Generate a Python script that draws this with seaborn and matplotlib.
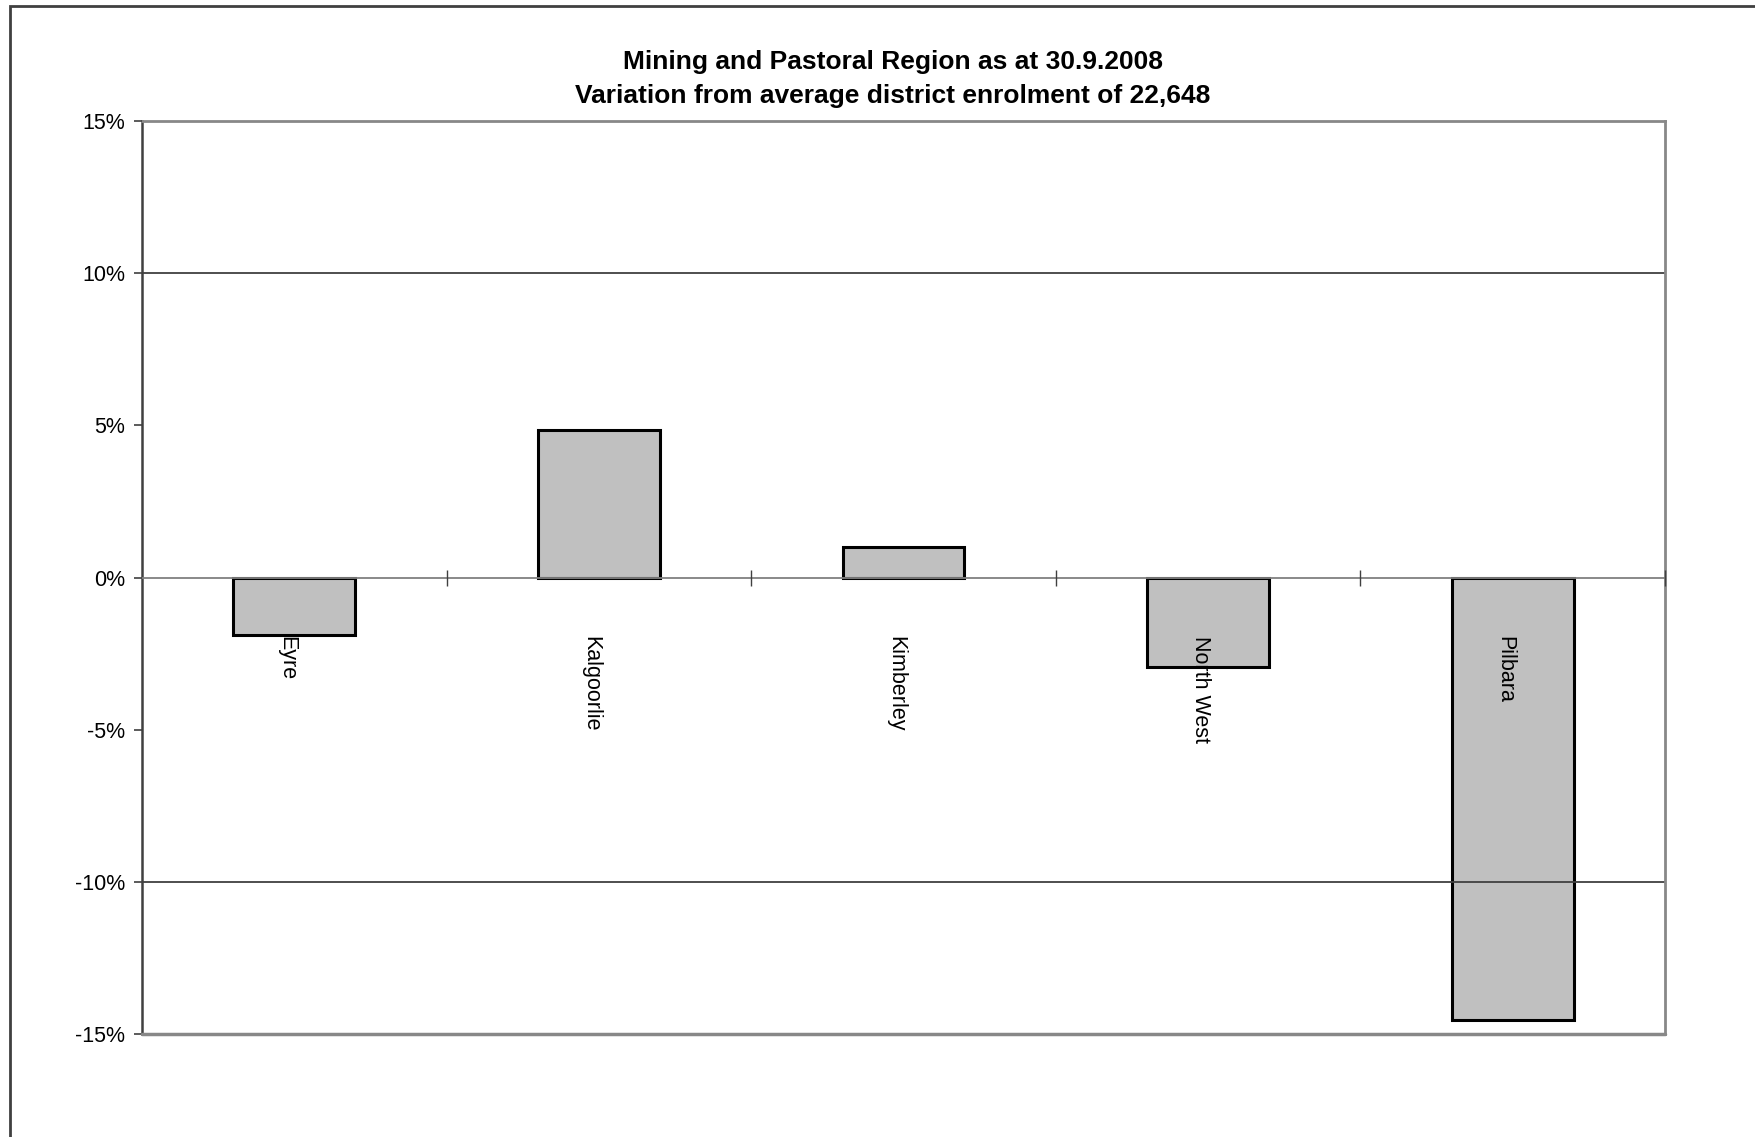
import matplotlib
matplotlib.use("Agg")
import matplotlib.pyplot as plt
import seaborn as sns
import pandas as pd
from matplotlib.patches import Rectangle
from matplotlib.ticker import FuncFormatter, FixedLocator
from matplotlib.transforms import ScaledTranslation

districts = ["Eyre", "Kalgoorlie", "Kimberley", "North West", "Pilbara"]
variation = [-1.88, 4.86, 1.0, -2.95, -14.53]
title_lines = ["Mining and Pastoral Region as at 30.9.2008",
               "Variation from average district enrolment of 22,648"]
y_ticks = [-15, -10, -5, 0, 5, 10, 15]

sns.set_theme(style="white")
plt.rcParams['font.family'] = ['Liberation Sans', 'DejaVu Sans']
plt.rcParams['text.color'] = 'black'
plt.rcParams['xtick.color'] = 'black'
plt.rcParams['ytick.color'] = 'black'

df = pd.DataFrame({"district": districts, "variation": variation})

W, H = 1756, 1137
fig = plt.figure(figsize=(W / 100, H / 100), dpi=100)
fig.patch.set_facecolor("white")
ax = fig.add_axes([142 / W, 1 - 1034 / H, (1665 - 142) / W, (1034 - 121) / H])

sns.barplot(data=df, x="district", y="variation", ax=ax, color="#c0c0c0",
            width=0.4, edgecolor="black", linewidth=2.2, saturation=1)
for p in ax.patches:
    p.set_zorder(1)

ax.set_axisbelow(False)
ax.set_xlim(-0.5, len(districts) - 0.5)
ax.set_ylim(-15, 15)
ax.set_xlabel("")
ax.set_ylabel("")

# gridlines (drawn above bars, as in the reference)
for g in (10, -10):
    ax.axhline(g, color="#404040", lw=1.3, zorder=2)

# y axis
ax.yaxis.set_major_locator(FixedLocator(y_ticks))
ax.yaxis.set_major_formatter(FuncFormatter(lambda v, p: f"{int(v)}%"))
ax.tick_params(axis="y", which="major", left=True, direction="out", length=6,
               width=1.2, color="#404040", labelsize=15.5, pad=6, labelcolor="black")

# x axis at zero
ax.spines["bottom"].set_position(("data", 0))
ax.spines["bottom"].set_color("#808080")
ax.spines["bottom"].set_linewidth(1.3)
ax.spines["left"].set_color("#404040")
ax.spines["left"].set_linewidth(1.8)
ax.spines["top"].set_color("#888888")
ax.spines["top"].set_linewidth(2)
ax.spines["right"].set_color("#888888")
ax.spines["right"].set_linewidth(2)
ax.axhline(-15, color="#888888", lw=2.5, clip_on=False, zorder=5)

n = len(districts)
ax.set_xticks([i + 0.5 for i in range(n)], minor=False)
ax.set_xticklabels([""] * n, minor=False)
ax.set_xticks(list(range(n)), minor=True)
ax.set_xticklabels(districts, minor=True, rotation=270, ha="center", va="top",
                   fontsize=15.5)
ax.tick_params(axis="x", which="major", bottom=True, direction="inout", length=12,
               width=1.0, color="#404040")
ax.tick_params(axis="x", which="minor", bottom=True, length=0, pad=42,
               labelcolor="black")
shift = ScaledTranslation(-8 / 100, 0, fig.dpi_scale_trans)
for lab in ax.get_xticklabels(minor=True):
    lab.set_transform(lab.get_transform() + shift)

fig.text(893 / W, 1 - 62 / H, title_lines[0], ha="center", va="center",
         fontsize=19, fontweight="bold", color="black")
fig.text(893 / W, 1 - 96 / H, title_lines[1], ha="center", va="center",
         fontsize=19, fontweight="bold", color="black")

# outer chart border (top and left visible)
fig.patches.append(Rectangle((10 / W, -0.1), 1.2, 1 - 6 / H + 0.1,
                             transform=fig.transFigure, fill=False,
                             edgecolor="#404040", lw=2, figure=fig))

fig.savefig("out.png", dpi=100, facecolor="white")
